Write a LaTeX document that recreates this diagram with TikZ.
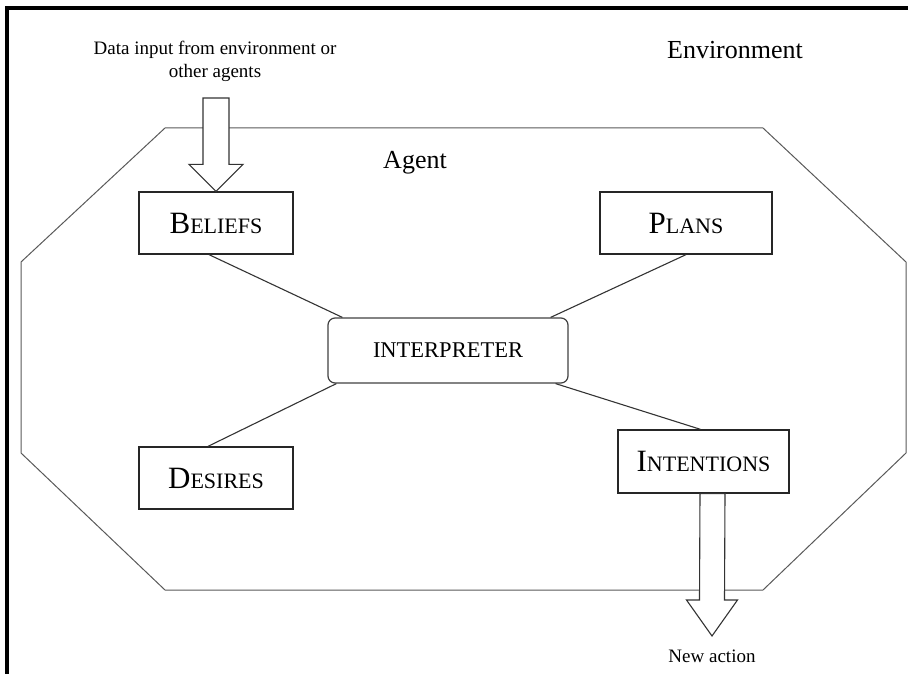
\documentclass[tikz,border=0pt]{standalone}
\usepackage{fontspec}
\setmainfont{Liberation Serif}
\usetikzlibrary{calc}
% first letter large, the rest in smaller capitals
\newcommand\capsc[2]{{\fontsize{31}{31}\selectfont #1}{\fontsize{22}{22}\selectfont #2}}
\begin{document}
\begin{tikzpicture}[x=1pt,y=-1pt,
  frame/.style={line width=4pt,black},
  hull/.style={draw=black!65,line width=1pt,line join=miter},
  box/.style={draw=black!85,line width=1.3pt,inner sep=0pt,minimum height=62pt},
  interp/.style={draw=black!75,line width=1.2pt,rounded corners=7pt,inner sep=0pt,
    minimum width=240pt,minimum height=65pt,font=\fontsize{22.5}{22.5}\selectfont},
  link/.style={draw=black!80,line width=1.1pt},
  blockarrow/.style={fill=white,draw=black!80,line width=1.1pt,line join=miter},
  small/.style={font=\fontsize{19}{23}\selectfont,align=center,inner sep=0pt},
  big/.style={font=\fontsize{26}{26}\selectfont,inner sep=0pt}]
\useasboundingbox (0,0) rectangle (908,674);

% outer frame (top and left rules)
\draw[frame] (7,674) -- (7,8) -- (908,8);

% agent boundary
\draw[hull] (165,128) -- (763,128) -- (906,262) -- (906,453) -- (763,590)
  -- (165,590) -- (21,453) -- (21,262) -- cycle;

% labels
\node[small] (datain) at (215,61) {Data input from environment or\\other agents};
\node[big] (env) at (735,50) {Environment};
\node[big] (agent) at (415,163) {Agent};
\node[small] (act) at (712,656) {New action};

% components
\node[box,minimum width=154pt] (bel) at (216,223) {\capsc{B}{ELIEFS}};
\node[box,minimum width=172pt] (pla) at (686,223) {\capsc{P}{LANS}};
\node[box,minimum width=154pt] (des) at (216,478) {\capsc{D}{ESIRES}};
\node[box,minimum width=171pt,minimum height=63pt] (ins) at (703.5,461.5) {\capsc{I}{NTENTIONS}};
\node[interp] (int) at (448,350.5) {INTERPRETER};

% links to the interpreter
\draw[link] ([xshift=-7pt]bel.south) -- ([xshift=15pt]int.north west);
\draw[link] (pla.south) -- ([xshift=-18pt]int.north east);
\draw[link] ([xshift=-8pt]des.north) -- ([xshift=9pt]int.south west);
\draw[link] ([xshift=-3pt]ins.north) -- ([xshift=-13pt]int.south east);

% input arrow into the beliefs
\coordinate (inTop) at (216,98);
\draw[blockarrow] ($(inTop)+(-13,0)$) -- ($(inTop)+(13,0)$)
  -- ($(bel.north)+(13,-27)$) -- ($(bel.north)+(27,-27)$) -- (bel.north)
  -- ($(bel.north)+(-27,-27)$) -- ($(bel.north)+(-13,-27)$) -- cycle;

% output arrow from the intentions
\coordinate (outTop) at ($(ins.south)+(9,0)$);
\coordinate (outTip) at (712,636);
\draw[blockarrow] ($(outTop)+(-12.5,0)$) -- ($(outTop)+(12.5,0)$)
  -- ($(outTip)+(12.5,-36)$) -- ($(outTip)+(25.5,-36)$) -- (outTip)
  -- ($(outTip)+(-25.5,-36)$) -- ($(outTip)+(-12.5,-36)$) -- cycle;
\end{tikzpicture}
\end{document}
